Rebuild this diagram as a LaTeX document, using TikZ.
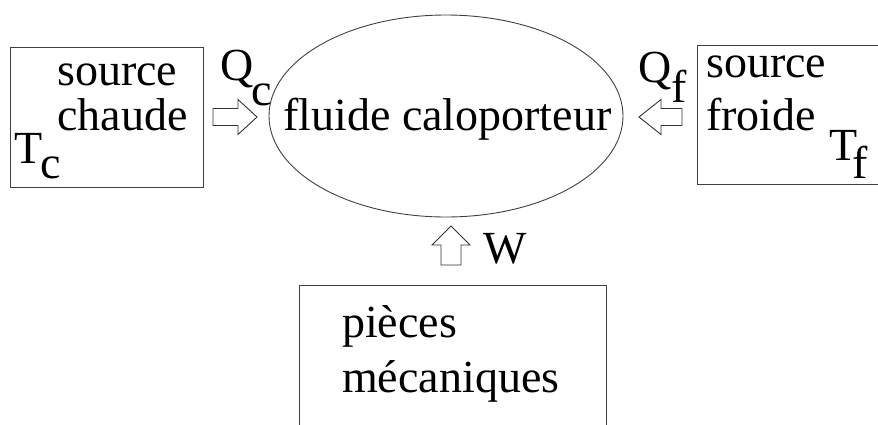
\documentclass[tikz,border=0pt]{standalone}
\usepackage{fontspec}
\setmainfont{Liberation Serif}
\newfontfamily\tnrfont{Liberation Serif}
\usetikzlibrary{shapes.geometric}
\newcommand{\lowsub}[3]{\kern#1pt\raisebox{-#2pt}{#3}}
\begin{document}
\begin{tikzpicture}[x=1pt,y=-1pt,
  box/.style={draw=black!75,line width=1.4pt,inner sep=0pt,anchor=north west},
  txt/.style={inner sep=0pt,anchor=base west,font=\tnrfont\fontsize{46}{55}\selectfont},
  blockarrow/.style={draw=black!80,line width=0.9pt,fill=white,line join=miter}]
\useasboundingbox (0,0) rectangle (878,424);
\clip (0,0) rectangle (878,424);
% boxes
\node[box,minimum width=193pt,minimum height=140pt] (hot) at (10,47) {};
\node[box,minimum width=200pt,minimum height=139pt] (cold) at (697,45) {};
\node[box,minimum width=307pt,minimum height=160pt] (mech) at (299,285) {};
% ellipse
\node[draw=black!75,line width=0.9pt,ellipse,minimum width=354pt,minimum height=202pt,inner sep=0pt] (fluid) at (446,116) {};
% texts
\node[txt] (s1) at (57,85) {source};
\node[txt] (s2) at (57,130) {chaude};
\node[txt] (tc) at (14,163) {T\lowsub{-2}{15}{c}};
\node[txt] (qc) at (220,80) {Q\lowsub{-2}{25}{c}};
\node[txt] (fl) at (283,130) {fluide caloporteur};
\node[txt] (qf) at (638,82) {Q\lowsub{0}{20}{f}};
\node[txt] (f1) at (706,77) {source};
\node[txt] (f2) at (706,130) {froide};
\node[txt] (tf) at (829,160) {T\lowsub{-5}{18}{f}};
\node[txt] (w) at (483,263) {W};
\node[txt] (p1) at (342,337) {pièces};
\node[txt] (p2) at (342,392) {mécaniques};
% block arrows
\draw[blockarrow] (213,108.5) -- (238,108.5) -- (238,99.5) -- (257,117) -- (238,134.5) -- (238,125.5) -- (213,125.5) -- cycle;
\draw[blockarrow] (682,108.5) -- (661,108.5) -- (661,99.5) -- (639,117) -- (661,134.5) -- (661,125.5) -- (682,125.5) -- cycle;
\draw[blockarrow] (441,265) -- (441,245) -- (432,245) -- (451,226) -- (470,245) -- (461,245) -- (461,265) -- cycle;
\end{tikzpicture}
\end{document}
